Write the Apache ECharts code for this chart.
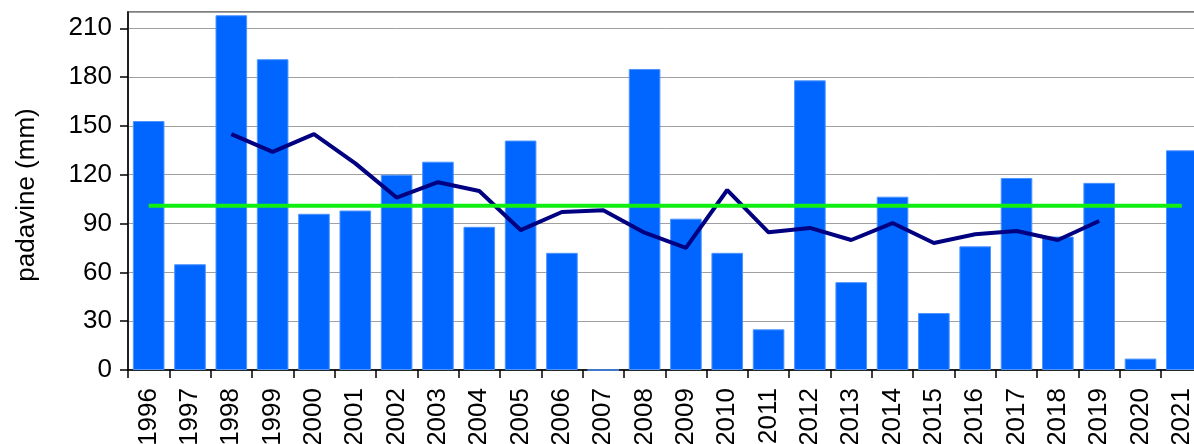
<!DOCTYPE html>
<html>
<head>
<meta charset="utf-8">
<script src="https://cdn.jsdelivr.net/npm/echarts@6/dist/echarts.min.js"></script>
<style>
  html, body { margin: 0; padding: 0; background: #fff; overflow: hidden; width: 1194px; height: 444px; }
  #chart { width: 1210px; height: 444px; }
</style>
</head>
<body>
<div id="chart"></div>
<script>
// Yearly precipitation (mm)
const years = ['1996','1997','1998','1999','2000','2001','2002','2003','2004','2005','2006','2007','2008',
  '2009','2010','2011','2012','2013','2014','2015','2016','2017','2018','2019','2020','2021'];
const precipitation = [153, 65, 218, 191, 96, 98, 120, 128, 88, 141, 72, 0, 185,
  93, 72, 25, 178, 54, 106.5, 35, 76, 118, 82, 115, 7, 135];
// 5-year centred running mean
const runningMean = [null, null, 145, 134, 145, 127, 106, 115.4, 110, 86, 97.1, 98.2, 84.4,
  75, 110.6, 84.6, 87.3, 79.9, 90.3, 78, 83.4, 85.4, 79.9, 91.6, null, null];
// Long-term average
const longTermMean = years.map(() => 101);
const yTicks = { min: 0, max: 220, interval: 30 };

const font = "'Liberation Sans', Arial, sans-serif";
const chart = echarts.init(document.getElementById('chart'), null, { renderer: 'canvas' });

chart.setOption({
  animation: false,
  backgroundColor: '#ffffff',
  grid: {
    left: 128, top: 12, width: 1074.5, height: 358,
    containLabel: false,
    outerBoundsMode: 'none',
    show: true, borderColor: '#808080', borderWidth: 2, backgroundColor: 'transparent'
  },
  xAxis: {
    type: 'category',
    data: years,
    boundaryGap: true,
    axisLine: { lineStyle: { color: '#000', width: 1.5 } },
    axisTick: { show: true, length: 8, lineStyle: { color: '#000', width: 1.5 } },
    axisLabel: { rotate: 90, margin: 18, fontSize: 26, color: '#000', fontFamily: font, interval: 0 },
    splitLine: { show: false }
  },
  yAxis: {
    type: 'value',
    min: yTicks.min, max: yTicks.max, interval: yTicks.interval,
    name: 'padavine (mm)',
    nameLocation: 'middle',
    nameGap: 88,
    nameRotate: 90,
    nameTextStyle: { fontSize: 26, color: '#000', fontFamily: font, padding: [0, 8, 0, 0] },
    axisLine: { show: true, lineStyle: { color: '#000', width: 1.5 } },
    axisTick: { show: true, length: 8, lineStyle: { color: '#000', width: 1.5 } },
    axisLabel: { fontSize: 26, color: '#000', fontFamily: font, margin: 16, showMaxLabel: false },
    splitLine: { show: true, lineStyle: { color: '#a0a0a0', width: 1 } }
  },
  series: [
    {
      type: 'bar',
      data: precipitation,
      barCategoryGap: '23.5%',
      itemStyle: { color: '#0066ff', borderColor: '#4d94ff', borderWidth: 1 }
    },
    {
      type: 'line',
      data: runningMean,
      symbol: 'none',
      connectNulls: false,
      lineStyle: { color: '#000080', width: 4 },
      z: 3
    },
    {
      type: 'line',
      data: longTermMean,
      symbol: 'none',
      lineStyle: { color: '#11ee11', width: 4 },
      z: 4
    }
  ]
});
</script>
</body>
</html>
